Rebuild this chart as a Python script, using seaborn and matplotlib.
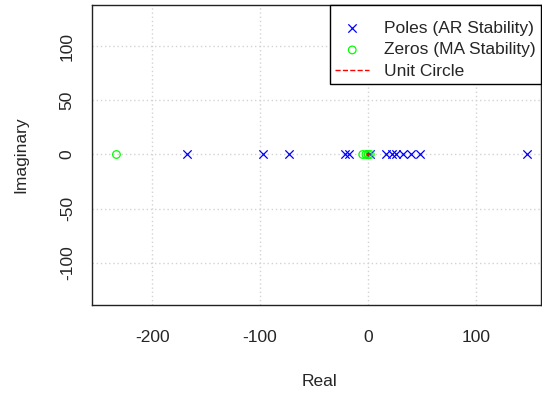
import numpy as np
import pandas as pd
import matplotlib
matplotlib.use("Agg")
import matplotlib.pyplot as plt
import seaborn as sns

pole_re = [-168, -97, -73, -21, -18, 2, 17, 22, 26, 32, 40, 48, 147]
pole_im = [0] * len(pole_re)
zero_re = [-233, -5, -2, 0, 2]
zero_im = [0] * len(zero_re)
x_ticks = [-200, -100, 0, 100]
y_ticks = [-100, -50, 0, 50, 100]

sns.set_style("white")
plt.rcParams['font.family'] = ['Liberation Sans', 'DejaVu Sans']
plt.rcParams['axes.unicode_minus'] = False

FS = 12.5
fig = plt.figure(figsize=(5.42, 3.94), dpi=100)
ax = fig.add_axes([0.170, 0.226, 0.828, 0.761])

theta = np.linspace(0, 2 * np.pi, 200)
circ = pd.DataFrame({"x": np.cos(theta), "y": np.sin(theta)})
poles = pd.DataFrame({"x": pole_re, "y": pole_im})
zeros = pd.DataFrame({"x": zero_re, "y": zero_im})

for t in x_ticks:
    ax.axvline(t, color="#d3d3d3", lw=1, ls=(0, (1, 2)), zorder=0)
for t in y_ticks:
    ax.axhline(t, color="#d3d3d3", lw=1, ls=(0, (1, 2)), zorder=0)

sns.scatterplot(data=poles, x="x", y="y", ax=ax, marker="x", color="#0000FF",
                s=36, linewidth=0.9, label="Poles (AR Stability)", zorder=3)
sns.scatterplot(data=zeros, x="x", y="y", ax=ax, marker="o", facecolor="none",
                edgecolor="#00FF00", s=30, linewidth=0.9,
                label="Zeros (MA Stability)", zorder=3)
sns.lineplot(data=circ, x="x", y="y", ax=ax, sort=False, color="red",
             linestyle="--", lw=1, label="Unit Circle", zorder=4)

ax.set_xlim(-255.5, 160)
ax.set_ylim(-139, 138)
ax.set_xticks(x_ticks)
ax.set_yticks(y_ticks)
ax.set_yticklabels([str(v) for v in y_ticks], rotation=90, va="center")
ax.tick_params(axis="both", direction="out", length=7, width=1, labelsize=FS,
               color="#444444")
ax.tick_params(axis="x", pad=11)
ax.tick_params(axis="y", pad=5.5)
for s in ax.spines.values():
    s.set_color("#222222")
    s.set_linewidth(1)
ax.set_xlabel("Real", fontsize=FS)
ax.set_ylabel("Imaginary", fontsize=FS)
ax.xaxis.set_label_coords(0.507, -0.255)
ax.yaxis.set_label_coords(-0.158, 0.5)
ax.xaxis.label.set_va("center")
ax.yaxis.label.set_va("center")

leg = ax.legend(loc="upper right", bbox_to_anchor=(1, 1), borderaxespad=0,
                fancybox=False, edgecolor="black", framealpha=1, fontsize=FS,
                handlelength=1.95, handletextpad=0.86, borderpad=0.3,
                labelspacing=0.37, title=" ", title_fontsize=2)
leg.get_frame().set_linewidth(1)

fig.savefig("out.png", dpi=100)
